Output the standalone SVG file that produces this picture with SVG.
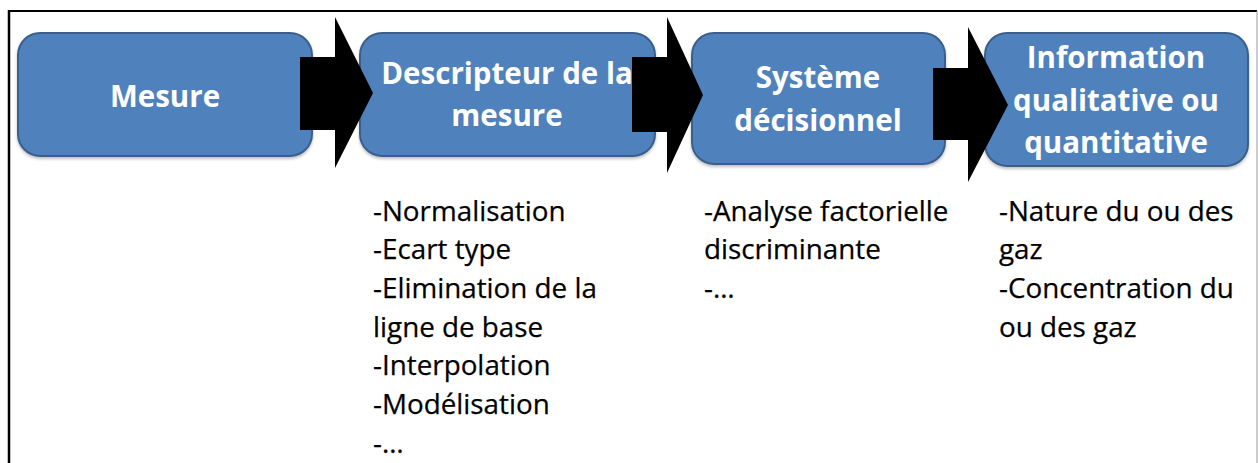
<svg xmlns="http://www.w3.org/2000/svg" width="1258" height="463" viewBox="0 0 1258 463">
<style>
.box{fill:#4F81BD;stroke:#3A5F8C;stroke-width:2}
.title{font-family:"Open Sans","Liberation Sans",sans-serif;font-weight:bold;font-size:29.5px;fill:#FFFFFF;text-anchor:middle}
.body{font-family:"Open Sans","Liberation Sans",sans-serif;font-size:27.8px;fill:#000000;stroke:#000000;stroke-width:0.25}
.arrow{fill:#000000}
</style>
<defs>
<filter id="sh" x="-10%" y="-10%" width="120%" height="130%">
<feDropShadow dx="0" dy="2" stdDeviation="1.5" flood-color="#000" flood-opacity="0.25"/>
</filter>
</defs>
<rect width="1258" height="463" fill="#FFFFFF"/>
<g id="frame">
<line x1="8" y1="11" x2="1257" y2="11" stroke="#000" stroke-width="2"/>
<line x1="9" y1="10" x2="9" y2="463" stroke="#000" stroke-width="2.5"/>
<line x1="1257" y1="11" x2="1257" y2="463" stroke="#999" stroke-width="1"/>
</g>
<g id="node-mesure">
<rect class="box" filter="url(#sh)" x="18" y="33" width="294" height="123" rx="22"/>
<text class="title" x="165" y="107">Mesure</text>
</g>
<g id="node-descripteur">
<rect class="box" filter="url(#sh)" x="360" y="33" width="295" height="123" rx="22"/>
<text class="title" x="507" y="84">Descripteur de la</text>
<text class="title" x="507" y="126">mesure</text>
<text class="body" x="373" y="221">-Normalisation</text>
<text class="body" x="373" y="259">-Ecart type</text>
<text class="body" x="373" y="298">-Elimination de la</text>
<text class="body" x="373" y="337">ligne de base</text>
<text class="body" x="373" y="375">-Interpolation</text>
<text class="body" x="373" y="414">-Modélisation</text>
<text class="body" x="373" y="453">-…</text>
</g>
<g id="node-systeme">
<rect class="box" filter="url(#sh)" x="692" y="33" width="253" height="131" rx="22"/>
<text class="title" x="818" y="88">Système</text>
<text class="title" x="818" y="131">décisionnel</text>
<text class="body" x="704" y="221">-Analyse factorielle</text>
<text class="body" x="704" y="259">discriminante</text>
<text class="body" x="704" y="298">-…</text>
</g>
<g id="node-information">
<rect class="box" filter="url(#sh)" x="985" y="33" width="263" height="133" rx="22"/>
<text class="title" x="1116" y="68">Information</text>
<text class="title" x="1116" y="111">qualitative ou</text>
<text class="title" x="1116" y="153">quantitative</text>
<text class="body" x="999" y="221">-Nature du ou des</text>
<text class="body" x="999" y="259">gaz</text>
<text class="body" x="999" y="298">-Concentration du</text>
<text class="body" x="999" y="337">ou des gaz</text>
</g>
<g id="connectors">
<polygon class="arrow" points="300,57 335,57 335,17 373,93 335,168 335,130 300,130"/>
<polygon class="arrow" points="632,57 667,57 667,17 703,95 667,173 667,132 632,132"/>
<polygon class="arrow" points="933,68 968,68 968,27 1008,105 968,182 968,140 933,140"/>
</g>
</svg>
